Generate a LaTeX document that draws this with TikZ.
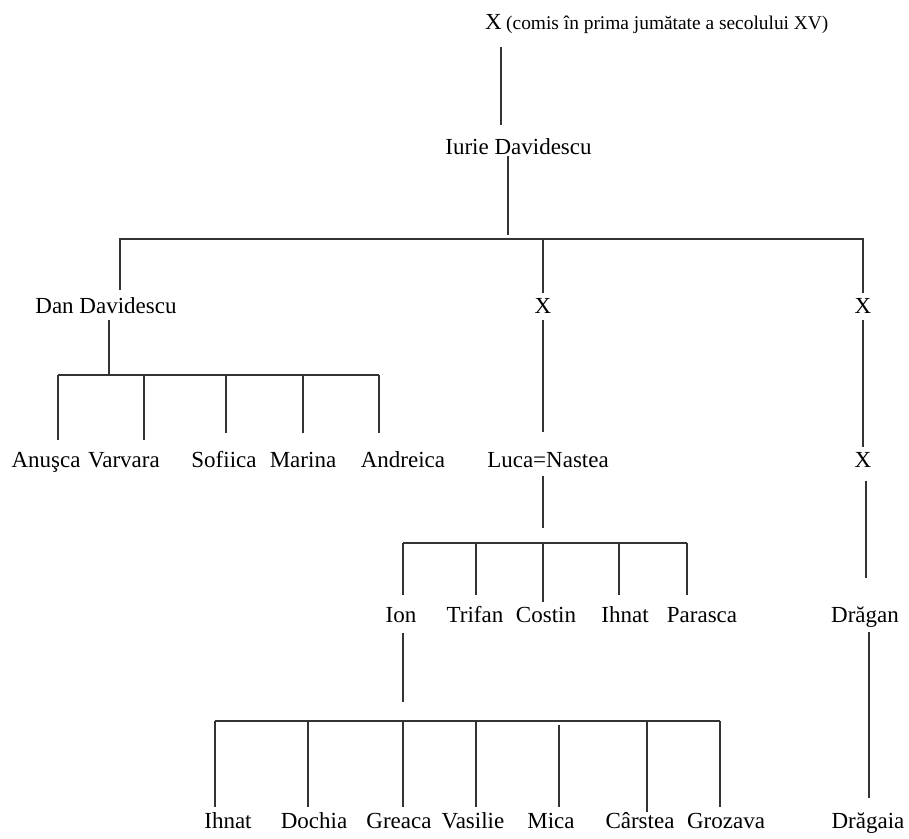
\documentclass[tikz,border=0pt]{standalone}
\usepackage{fontspec}
\setmainfont{Liberation Serif}
\begin{document}
\begin{tikzpicture}[x=1pt,y=-1pt,
  nm/.style={anchor=base,inner sep=0pt,text height=16pt,text depth=5pt,font=\fontsize{23}{27}\selectfont,text=black},
  note/.style={anchor=base west,inner sep=0pt,font=\fontsize{19.4}{23}\selectfont,text=black},
  ln/.style={line width=1.3pt,draw=black!80}]
\useasboundingbox (0,0) rectangle (909,838);
% nodes
\node[nm] (topx) at (493.5,29) {X};
\node[note] (topnote) at (506,29) {(comis în prima jumătate a secolului XV)};
\node[nm] (iurie) at (518.5,154) {Iurie Davidescu};
\node[nm] (dan) at (106,313) {Dan Davidescu};
\node[nm] (xm) at (543,313) {X};
\node[nm] (xr) at (863,313) {X};
\node[nm] (anusca) at (46,467) {Anuşca};
\node[nm] (varvara) at (124,467) {Varvara};
\node[nm] (sofiica) at (224,467) {Sofiica};
\node[nm] (marina) at (303,467) {Marina};
\node[nm] (andreica) at (403,467) {Andreica};
\node[nm] (luca) at (548,467) {Luca=Nastea};
\node[nm] (x2) at (863,467) {X};
\node[nm] (ion) at (401,622) {Ion};
\node[nm] (trifan) at (475,622) {Trifan};
\node[nm] (costin) at (546,622) {Costin};
\node[nm] (ihnatA) at (625,622) {Ihnat};
\node[nm] (parasca) at (702,622) {Parasca};
\node[nm] (dragan) at (865,622) {Drăgan};
\node[nm] (ihnatB) at (228,828) {Ihnat};
\node[nm] (dochia) at (314,828) {Dochia};
\node[nm] (greaca) at (399,828) {Greaca};
\node[nm] (vasilie) at (473,828) {Vasilie};
\node[nm] (mica) at (551,828) {Mica};
\node[nm] (carstea) at (640,828) {Cârstea};
\node[nm] (grozava) at (726,828) {Grozava};
\node[nm] (dragaia) at (868,828) {Drăgaia};
% junctions
\coordinate (j1) at (508,239);
\coordinate (j2) at (109,375);
\coordinate (j3) at (543,543);
\coordinate (j4) at (403,721);
% top
\draw[ln,shorten <=13pt,shorten >=13pt] (topx.south -| 501,0) -- (iurie.north -| 501,0);
\draw[ln] ([yshift=-2pt]iurie.base -| j1) -- ([yshift=4pt]j1);
% level 1
\draw[ln] ([yshift=7pt]dan.north -| 120,0) |- (j1);
\draw[ln] (j1) -| ([yshift=4pt]xr.north);
\draw[ln] (xm.north |- j1) -- ([yshift=4pt]xm.north);
% Dan's children
\draw[ln] ([yshift=-2pt]dan.south -| j2) -- (j2);
\draw[ln] (j2 -| 58,0) -- (j2 -| 379,0);
\draw[ln] (j2 -| 58,0) -- ([yshift=11pt]anusca.north -| 58,0);
\draw[ln] (j2 -| 144,0) -- ([yshift=11pt]varvara.north -| 144,0);
\draw[ln] (j2 -| 226,0) -- ([yshift=18pt]sofiica.north -| 226,0);
\draw[ln] (j2 -| 303,0) -- ([yshift=18pt]marina.north -| 303,0);
\draw[ln] (j2 -| 379,0) -- ([yshift=18pt]andreica.north -| 379,0);
% middle branch
\draw[ln] ([yshift=-2pt]xm.south) -- ([yshift=19pt]luca.north -| xm.south);
\draw[ln] ([yshift=-4pt]luca.south -| j3) -- ([yshift=15pt]j3);
\draw[ln] (j3 -| 403,0) -- (j3 -| 687,0);
\draw[ln] (j3 -| 403,0) -- ([yshift=11pt]ion.north -| 403,0);
\draw[ln] (j3 -| 476,0) -- ([yshift=11pt]trifan.north -| 476,0);
\draw[ln] (j3) -- ([yshift=4pt]costin.north -| j3);
\draw[ln] (j3 -| 619,0) -- ([yshift=11pt]ihnatA.north -| 619,0);
\draw[ln] (j3 -| 687,0) -- ([yshift=11pt]parasca.north -| 687,0);
% Ion's children
\draw[ln] ([yshift=-6pt]ion.south -| j4) -- ([yshift=19pt]j4);
\draw[ln] (j4 -| 215,0) -- (j4 -| 720,0);
\draw[ln] (j4 -| 215,0) -- ([yshift=5pt]ihnatB.north -| 215,0);
\draw[ln] (j4 -| 308,0) -- ([yshift=5pt]dochia.north -| 308,0);
\draw[ln] (j4) -- ([yshift=5pt]greaca.north -| j4);
\draw[ln] (j4 -| 476,0) -- ([yshift=5pt]vasilie.north -| 476,0);
\draw[ln] ([yshift=-4pt]j4 -| 559,0) -- ([yshift=5pt]mica.north -| 559,0);
\draw[ln] (j4 -| 647,0) -- (carstea.north -| 647,0);
\draw[ln] (j4 -| 720,0) -- ([yshift=5pt]grozava.north -| 720,0);
% right branch
\draw[ln] ([yshift=-2pt]xr.south) -- ([yshift=4pt]x2.north);
\draw[ln] ([yshift=-9pt]x2.south -| 866,0) -- ([yshift=28pt]dragan.north -| 866,0);
\draw[ln] ([yshift=-5pt]dragan.south -| 869,0) -- ([yshift=14pt]dragaia.north -| 869,0);
\end{tikzpicture}
\end{document}
